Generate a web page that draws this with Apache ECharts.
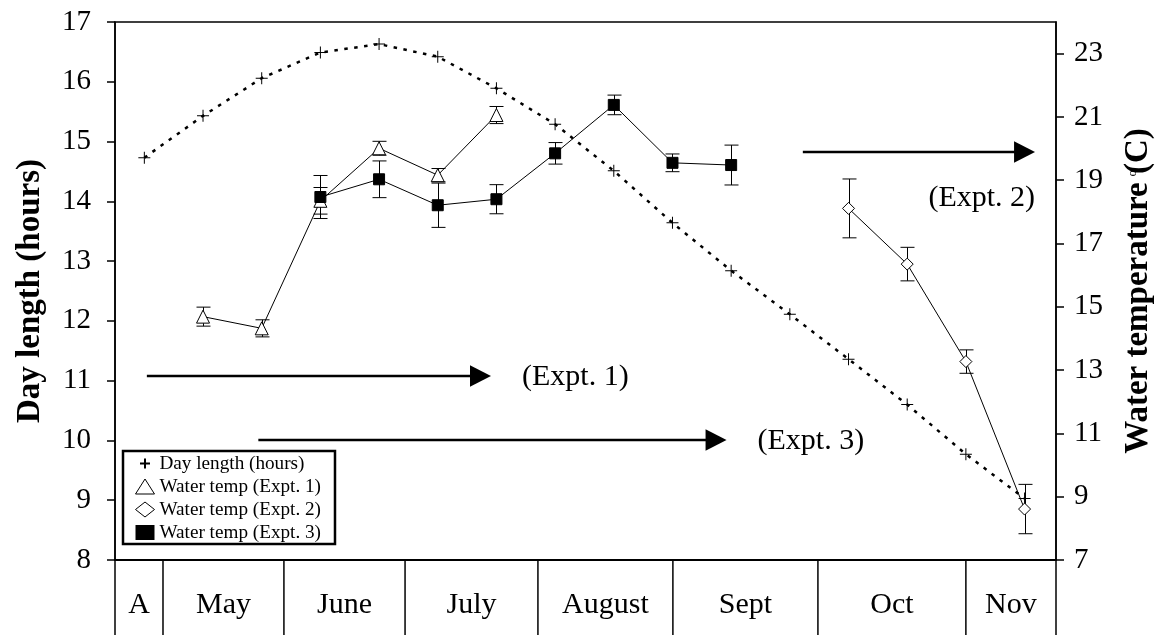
<!DOCTYPE html>
<html>
<head>
<meta charset="utf-8">
<script src="https://cdn.jsdelivr.net/npm/echarts@6/dist/echarts.min.js"></script>
<style>
  html, body { margin: 0; padding: 0; background: #fff; }
  #chart { width: 1167px; height: 635px; }
</style>
</head>
<body>
<div id="chart"></div>
<script>
// Sampling dates, in days from the start of the month strip
const dayLengthDays = [7, 21, 35, 49, 63, 77, 91, 105, 119, 133, 147, 161, 175, 189, 203, 217];
const dayLengthHours = [14.73, 15.43, 16.06, 16.49, 16.63, 16.42, 15.89, 15.29, 14.51, 13.64, 12.84, 12.11, 11.36, 10.60, 9.77, 9.03];

const expt1Days = [21, 35, 49, 63, 77, 91];
const expt1Temp = [14.69, 14.32, 18.35, 20.01, 19.16, 21.06];
const expt1Err = [0.30, 0.27, 0.42, 0.22, 0.21, 0.27];

const expt2Days = [175, 189, 203, 217];
const expt2Temp = [18.11, 16.35, 13.27, 8.61];
const expt2Err = [0.93, 0.53, 0.37, 0.78];

const expt3Days = [49, 63, 77, 91, 105, 119, 133, 147];
const expt3Temp = [18.47, 19.03, 18.21, 18.40, 19.85, 21.38, 19.55, 19.48];
const expt3Err = [0.68, 0.58, 0.70, 0.46, 0.34, 0.31, 0.28, 0.63];

// Month strip under the plot
const monthNames = ['A', 'May', 'June', 'July', 'August', 'Sept', 'Oct', 'Nov'];
const monthEdges = [0, 11.45, 40.3, 69.2, 100.9, 133.1, 167.7, 203.0, 224.5];

// Axis ticks
const tempTicks = [7, 9, 11, 13, 15, 17, 19, 21, 23];

// Experiment periods (arrows), in days and day-length hours
const periodLabels = ['(Expt. 1)', '(Expt. 3)', '(Expt. 2)'];
const periodStart = [7.6, 34.2, 164.1];
const periodEnd = [89.7, 145.9, 219.5];
const periodLevel = [11.07, 10.0, 14.82];
const periodLabelBelow = [false, false, true];

const FONT = 'Liberation Serif';
const BLACK = '#000';
const PLUS = 'path://M0,5.5H12V6.5H0ZM5.5,0H6.5V12H5.5Z';
// bold cross with padded bounds so it stays smaller than the other legend icons
const PLUS_BOLD = 'path://M-2.5,-2.5M12.5,12.5M0,4H10V6H0ZM4,0H6V10H4Z';

const zip3 = (a, b, c) => a.map((v, i) => [v, b[i], c[i]]);
const zip2 = (a, b) => a.map((v, i) => [v, b[i]]);

function errorBarItem(params, api) {
  const x = api.value(0), y = api.value(1), e = api.value(2);
  const top = api.coord([x, y + e]);
  const bot = api.coord([x, y - e]);
  const cx = Math.round(top[0]) + 0.5;
  const hw = 7;
  const st = { stroke: BLACK, lineWidth: 1 };
  return {
    type: 'group',
    children: [
      { type: 'line', shape: { x1: cx, y1: top[1], x2: cx, y2: bot[1] }, style: st },
      { type: 'line', shape: { x1: cx - hw, y1: top[1], x2: cx + hw, y2: top[1] }, style: st },
      { type: 'line', shape: { x1: cx - hw, y1: bot[1], x2: cx + hw, y2: bot[1] }, style: st }
    ]
  };
}

function errorSeries(days, temp, err) {
  return {
    type: 'custom', xAxisIndex: 0, yAxisIndex: 1, z: 1, silent: true,
    renderItem: errorBarItem,
    encode: { x: 0, y: 1 },
    data: zip3(days, temp, err)
  };
}

function tempSeries(name, days, temp, symbol, size, fill) {
  return {
    name, type: 'line', xAxisIndex: 0, yAxisIndex: 1, z: 3,
    data: zip2(days, temp),
    symbol, symbolSize: size, showSymbol: true,
    itemStyle: { color: fill, borderColor: BLACK, borderWidth: 1 },
    lineStyle: { color: BLACK, width: 1 },
    emphasis: { disabled: true }
  };
}

function periodItem(params, api) {
  const i = params.dataIndex;
  const a = api.coord([api.value(0), api.value(2)]);
  const b = api.coord([api.value(1), api.value(2)]);
  const y = Math.round(a[1]);
  const headLen = 21, headHalf = 10.8;
  const tipX = b[0];
  const text = periodLabels[i];
  const below = periodLabelBelow[i];
  return {
    type: 'group',
    children: [
      { type: 'line', shape: { x1: a[0], y1: y, x2: tipX - headLen + 2, y2: y },
        style: { stroke: BLACK, lineWidth: 2.5 } },
      { type: 'polygon', shape: { points: [[tipX, y], [tipX - headLen, y - headHalf], [tipX - headLen, y + headHalf]] },
        style: { fill: BLACK } },
      { type: 'text',
        style: {
          text, x: below ? tipX : tipX + 31, y: below ? y + 46 : y + 1,
          align: below ? 'right' : 'left', verticalAlign: 'middle',
          font: '30px "' + FONT + '"', fill: BLACK
        } }
    ]
  };
}

function monthItem(params, api) {
  const i = params.dataIndex;
  const left = api.coord([api.value(0), 1]);
  const bottom = api.coord([api.value(0), 0]);
  const right = api.coord([api.value(1), 0]);
  const mid = api.coord([(api.value(0) + api.value(1)) / 2, 0.4]);
  const st = { stroke: BLACK, lineWidth: 1.5 };
  const children = [
    { type: 'line', shape: { x1: left[0], y1: left[1], x2: left[0], y2: bottom[1] }, style: st },
    { type: 'text', style: { text: monthNames[i], x: mid[0], y: mid[1], align: 'center', verticalAlign: 'middle',
      font: '30px "' + FONT + '"', fill: BLACK } }
  ];
  if (i === monthNames.length - 1) {
    children.push({ type: 'line', shape: { x1: right[0], y1: left[1], x2: right[0], y2: bottom[1] }, style: st });
  }
  return { type: 'group', children };
}

const chart = echarts.init(document.getElementById('chart'), null, { renderer: 'canvas' });

chart.setOption({
  animation: false,
  backgroundColor: '#fff',
  textStyle: { fontFamily: FONT, color: BLACK },
  grid: [
    { left: 115, right: 111, top: 22, bottom: 75, show: true, borderColor: BLACK, borderWidth: 1.5, backgroundColor: 'transparent' },
    { left: 115, right: 111, top: 560, bottom: 0 }
  ],
  xAxis: [
    { type: 'value', gridIndex: 0, min: 0, max: 224.5,
      axisLine: { show: true, lineStyle: { color: BLACK, width: 2 } },
      axisTick: { show: false }, axisLabel: { show: false }, splitLine: { show: false } },
    { type: 'value', gridIndex: 1, min: 0, max: 224.5, show: false }
  ],
  yAxis: [
    { type: 'value', gridIndex: 0, position: 'left', min: 8, max: 17, interval: 1,
      axisLine: { show: true, lineStyle: { color: BLACK, width: 1.5 } },
      axisTick: { show: true, length: 8, lineStyle: { color: BLACK, width: 1.5 } },
      axisLabel: { fontFamily: FONT, fontSize: 29, color: BLACK, margin: 24 },
      splitLine: { show: false },
      name: 'Day length (hours)', nameLocation: 'middle', nameGap: 68,
      nameTextStyle: { fontFamily: FONT, fontSize: 33, fontWeight: 'bold', color: BLACK } },
    { type: 'value', gridIndex: 0, position: 'right', min: 7, max: 24,
      axisLine: { show: true, lineStyle: { color: BLACK, width: 1.5 } },
      axisTick: { show: true, length: 8, customValues: tempTicks, lineStyle: { color: BLACK, width: 1.5 } },
      axisLabel: { fontFamily: FONT, fontSize: 29, color: BLACK, margin: 18, customValues: tempTicks },
      splitLine: { show: false },
      name: 'Water temperature (C)', nameLocation: 'middle', nameGap: 66,
      nameTextStyle: { fontFamily: FONT, fontSize: 33, fontWeight: 'bold', color: BLACK } },
    { type: 'value', gridIndex: 1, min: 0, max: 1, show: false }
  ],
  legend: {
    orient: 'vertical', left: 123, top: 451, selectedMode: false,
    backgroundColor: '#fff', borderColor: BLACK, borderWidth: 2.5, borderRadius: 0,
    padding: [3, 14, 2, 12], itemGap: 4, itemWidth: 19, itemHeight: 15,
    textStyle: { fontFamily: FONT, fontSize: 19.2, color: BLACK, lineHeight: 19 },
    data: [
      { name: 'Day length (hours)', icon: PLUS_BOLD, itemStyle: { color: BLACK, borderWidth: 0 } },
      { name: 'Water temp (Expt. 1)', icon: 'triangle', itemStyle: { color: '#fff', borderColor: BLACK, borderWidth: 1 } },
      { name: 'Water temp (Expt. 2)', icon: 'diamond', itemStyle: { color: '#fff', borderColor: BLACK, borderWidth: 1 } },
      { name: 'Water temp (Expt. 3)', icon: 'rect', itemStyle: { color: BLACK, borderColor: BLACK, borderWidth: 0 } }
    ]
  },
  graphic: [
    { type: 'text', left: 1126, top: 170, rotation: Math.PI / 2,
      style: { text: 'o', font: '13px "' + FONT + '"', fill: BLACK } }
  ],
  series: [
    {
      name: 'Day length (hours)', type: 'line', xAxisIndex: 0, yAxisIndex: 0, z: 3,
      data: zip2(dayLengthDays, dayLengthHours),
      symbol: PLUS, symbolSize: 12, showSymbol: true,
      itemStyle: { color: BLACK, borderWidth: 0 },
      lineStyle: { color: BLACK, width: 2.5, type: [3.5, 6.5] },
      emphasis: { disabled: true }
    },
    tempSeries('Water temp (Expt. 1)', expt1Days, expt1Temp, 'triangle', 13, '#fff'),
    tempSeries('Water temp (Expt. 2)', expt2Days, expt2Temp, 'diamond', 12, '#fff'),
    tempSeries('Water temp (Expt. 3)', expt3Days, expt3Temp, 'rect', 11, BLACK),
    errorSeries(expt1Days, expt1Temp, expt1Err),
    errorSeries(expt2Days, expt2Temp, expt2Err),
    errorSeries(expt3Days, expt3Temp, expt3Err),
    {
      type: 'custom', xAxisIndex: 0, yAxisIndex: 0, z: 2, silent: true, clip: false,
      renderItem: periodItem,
      data: periodStart.map((s, i) => [s, periodEnd[i], periodLevel[i]])
    },
    {
      type: 'custom', xAxisIndex: 1, yAxisIndex: 2, z: 2, silent: true, clip: false,
      renderItem: monthItem,
      data: monthNames.map((n, i) => [monthEdges[i], monthEdges[i + 1]])
    }
  ]
});
</script>
</body>
</html>
